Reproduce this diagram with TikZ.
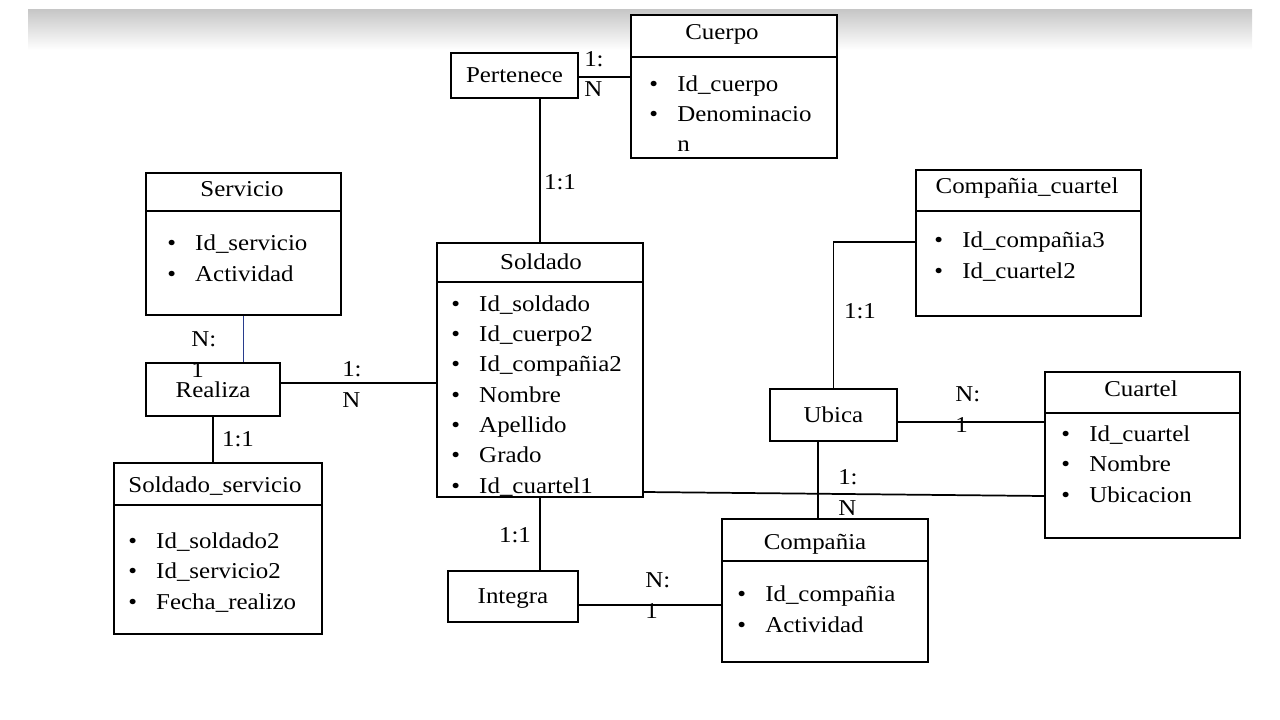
\documentclass[tikz,border=0pt]{standalone}
\usepackage{fontspec}
\setmainfont{Liberation Serif}[FakeStretch=1.1]
\usepackage{tikz}
\usetikzlibrary{fit, calc}
\definecolor{linkblue}{RGB}{40, 60, 140}
\newcommand{\itm}{\makebox[21pt][l]{\textbullet}}

\begin{document}
\begin{tikzpicture}[x=0.75pt, y=-0.75pt,
    entity/.style={draw, line width=1.3pt, inner sep=0pt, fill=white},
    rel/.style={draw, line width=1.3pt, inner sep=0pt, fill=white, text depth=0pt,
                font=\fontsize{17}{22.7}\selectfont},
    title/.style={inner sep=0pt, anchor=base, font=\fontsize{17}{22.7}\selectfont},
    attr/.style={inner sep=0pt, anchor=base west, align=left, font=\fontsize{17}{22.7}\selectfont},
    card/.style={inner sep=0pt, anchor=base west, align=left, font=\fontsize{17}{22.7}\selectfont},
    link/.style={line width=1.3pt}
]
\useasboundingbox (0,0) rectangle (1280,720);

% Grey band on top
\shade[top color=black!22, bottom color=white] (28,10) rectangle (1252,50);

% Cuerpo
\node[entity, fit={(631,15) (837,158)}] (cuerpo) {};
\draw[link] (cuerpo.west |- 0,57) -- (cuerpo.east |- 0,57);
\node[title] (cuerpoT) at (722,40) {Cuerpo};
\node[attr] (cuerpoA) at (649,152) {\itm Id\_cuerpo\\\itm Denominacio\\\hspace*{21pt}n};

% Servicio
\node[entity, fit={(146,173) (341,315)}] (servicio) {};
\draw[link] (servicio.west |- 0,211) -- (servicio.east |- 0,211);
\node[title] (servicioT) at (242,197) {Servicio};
\node[attr] (servicioA) at (167,281) {\itm Id\_servicio\\\itm Actividad};

% Soldado
\node[entity, fit={(437,243) (643,497)}] (soldado) {};
\draw[link] (soldado.west |- 0,282) -- (soldado.east |- 0,282);
\node[title] (soldadoT) at (541,269) {Soldado};
\node[attr] (soldadoA) at (451,493) {\itm Id\_soldado\\\itm Id\_cuerpo2\\\itm Id\_compañia2\\
    \itm Nombre\\\itm Apellido\\\itm Grado\\\itm Id\_cuartel1};

% Compañia_cuartel
\node[entity, fit={(916,170) (1141,316)}] (compcuartel) {};
\draw[link] (compcuartel.west |- 0,211) -- (compcuartel.east |- 0,211);
\node[title] (compcuartelT) at (1027,194) {Compañia\_cuartel};
\node[attr] (compcuartelA) at (934,278) {\itm Id\_compañia3\\\itm Id\_cuartel2};

% Cuartel
\node[entity, fit={(1045,372) (1240,538)}] (cuartel) {};
\draw[link] (cuartel.west |- 0,413) -- (cuartel.east |- 0,413);
\node[title] (cuartelT) at (1141,396) {Cuartel};
\node[attr] (cuartelA) at (1061,502) {\itm Id\_cuartel\\\itm Nombre\\\itm Ubicacion};

% Soldado_servicio
\node[entity, fit={(114,463) (322,634)}] (soldserv) {};
\draw[link] (soldserv.west |- 0,505) -- (soldserv.east |- 0,505);
\node[title] (soldservT) at (215,492) {Soldado\_servicio};
\node[attr] (soldservA) at (128,609) {\itm Id\_soldado2\\\itm Id\_servicio2\\\itm Fecha\_realizo};

% Compañia
\node[entity, fit={(722,519) (928,662)}] (compania) {};
\draw[link] (compania.west |- 0,561) -- (compania.east |- 0,561);
\node[title] (companiaT) at (815,549) {Compañia};
\node[attr] (companiaA) at (737,632) {\itm Id\_compañia\\\itm Actividad};

% Relationships
\node[rel, minimum width=95.25pt, minimum height=33.75pt] (pertenece) at (514.5,75.5) {Pertenece};
\node[rel, minimum width=100.5pt, minimum height=39.75pt] (realiza) at (213,389.5) {Realiza};
\node[rel, minimum width=95.25pt, minimum height=39pt] (ubica) at (833.5,415) {Ubica};
\node[rel, minimum width=97.5pt, minimum height=38.25pt] (integra) at (513,596.5) {Integra};

% Connectors
\draw[link] (pertenece.east |- 0,77) -- (cuerpo.west |- 0,77);
\draw[link] (pertenece.south -| soldado.north) -- (soldado.north);
\draw[link, linkblue] (servicio.south) -- (servicio.south |- realiza.north);
\draw[link] (realiza.east |- 0,383) -- (soldado.west |- 0,383);
\draw[link] (realiza.south) -- (realiza.south |- soldserv.north);
\draw[link] (soldado.east |- 0,492) -- (cuartel.west |- 0,496);
\draw[link] (soldado.south) -- (soldado.south |- integra.north);
\draw[link] (integra.east |- 0,605) -- (compania.west |- 0,605);
\draw[link] (ubica.north) |- (compcuartel.west |- 0,242);
\draw[link] (ubica.east |- 0,422) -- (cuartel.west |- 0,422);
\draw[link] (ubica.south -| 818,0) -- (compania.north -| 818,0);

% Cardinalities
\node[card] (cPertCuerpo) at (584,97) {1:\\N};
\node[title] (cPertSold) at (560,190) {1:1};
\node[card] (cServReal) at (191,377) {N:\\1};
\node[card] (cRealSold) at (342,407) {1:\\N};
\node[title] (cRealSS) at (238,446) {1:1};
\node[title] (cSoldInt) at (515,542) {1:1};
\node[card] (cIntComp) at (645,618) {N:\\1};
\node[title] (cUbicaCC) at (860,318) {1:1};
\node[card] (cUbicaCuartel) at (955,432) {N:\\1};
\node[card] (cUbicaComp) at (838,515) {1:\\N};

\end{tikzpicture}
\end{document}
